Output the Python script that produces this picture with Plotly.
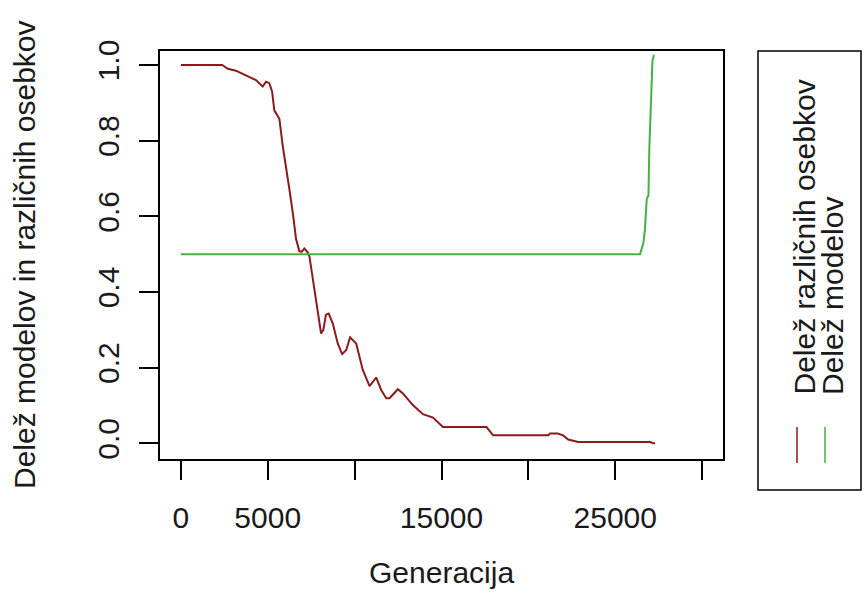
import plotly.graph_objects as go

# ---- data ----
gen_red = [0, 2380, 2700, 3170, 3500, 4000, 4320, 4710, 4900, 5090, 5250, 5380, 5670, 5860,
           6050, 6245, 6440, 6630, 6820, 6950, 7110, 7300, 7400, 7590, 7780, 8070, 8200, 8350,
           8510, 8740, 9030, 9280, 9510, 9740, 10090, 10470, 10860, 11240, 11530, 11820, 12010,
           12490, 12780, 13350, 13930, 14510, 15080, 17590, 17970, 21140, 21240, 21700, 22000,
           22290, 22870, 27000, 27190, 27290]
val_red = [1.0, 1.0, 0.99, 0.985, 0.978, 0.968, 0.96, 0.943, 0.956, 0.952, 0.93, 0.88, 0.858, 0.787,
           0.734, 0.672, 0.61, 0.54, 0.508, 0.506, 0.515, 0.505, 0.494, 0.433, 0.37, 0.29, 0.30, 0.34,
           0.343, 0.317, 0.264, 0.236, 0.246, 0.28, 0.264, 0.194, 0.151, 0.174, 0.141, 0.119, 0.119,
           0.143, 0.132, 0.101, 0.077, 0.068, 0.043, 0.043, 0.021, 0.021, 0.026, 0.026, 0.021,
           0.01, 0.0035, 0.0035, 0.0, 0.0]

gen_green = [0, 26430, 26620, 26710, 26810, 26910, 26960, 27040, 27140, 27230]
val_green = [0.5, 0.5, 0.53, 0.566, 0.646, 0.655, 0.779, 0.907, 1.01, 1.027]

x_tickvals = [0, 5000, 10000, 15000, 20000, 25000, 30000]
x_ticktext = ["0", "5000", "", "15000", "", "25000", ""]
y_tickvals = [0.0, 0.2, 0.4, 0.6, 0.8, 1.0]
y_ticktext = ["0.0", "0.2", "0.4", "0.6", "0.8", "1.0"]

legend_labels = ["Delež različnih osebkov", "Delež modelov"]
red_color = "#8B1A1A"
green_color = "#45B045"
FONT = "Liberation Sans, Arial, sans-serif"
FS = 30
TXT = "#1a1a1a"

# ---- layout geometry (pixels) ----
W, H = 864, 613
L, R, T, B = 160, 141, 51, 154
PW, PH = W - L - R, H - T - B


def xp(px):
    return (px - L) / PW


def yp(py):
    return (H - B - py) / PH


fig = go.Figure()
fig.add_trace(go.Scatter(x=gen_red, y=val_red, mode="lines",
                         line=dict(color=red_color, width=2), showlegend=False))
fig.add_trace(go.Scatter(x=gen_green, y=val_green, mode="lines",
                         line=dict(color=green_color, width=2), showlegend=False))

axis_common = dict(showline=True, linecolor="black", linewidth=1.5, mirror=True,
                   showgrid=False, zeroline=False, ticks="outside", ticklen=19,
                   tickwidth=1.5, tickcolor="black",
                   tickfont=dict(family=FONT, size=FS, color=TXT))

fig.update_xaxes(range=[-1200, 31200], tickvals=x_tickvals, ticktext=x_ticktext,
                 ticklabelstandoff=12, **axis_common)
fig.update_yaxes(range=[-0.0415, 1.037], tickvals=y_tickvals, ticktext=y_ticktext,
                 tickangle=-90, ticklabelstandoff=8, **axis_common)

annotations = [
    dict(text="Generacija", x=0.5, y=yp(572), xref="paper", yref="paper",
         showarrow=False, xanchor="center", yanchor="middle",
         font=dict(family=FONT, size=FS, color=TXT)),
    dict(text="Delež modelov in različnih osebkov", x=xp(24), y=0.5, xref="paper",
         yref="paper", showarrow=False, textangle=-90, xanchor="center",
         yanchor="middle", font=dict(family=FONT, size=FS, color=TXT)),
]
shapes = [
    dict(type="rect", xref="paper", yref="paper", x0=xp(758), x1=xp(861),
         y0=yp(490), y1=yp(51), line=dict(color="black", width=1.5)),
]
leg_x = [804, 832]
leg_colors = [red_color, green_color]
for lab, lx, col in zip(legend_labels, leg_x, leg_colors):
    annotations.append(dict(text=lab, x=xp(lx), y=yp(397), xref="paper", yref="paper",
                            showarrow=False, textangle=-90, xanchor="center",
                            yanchor="bottom", font=dict(family=FONT, size=FS, color=TXT)))
    shapes.append(dict(type="line", xref="paper", yref="paper", x0=xp(lx - 7),
                       x1=xp(lx - 7), y0=yp(463), y1=yp(427),
                       line=dict(color=col, width=1.5)))

fig.update_layout(width=W, height=H, margin=dict(l=L, r=R, t=T, b=B, autoexpand=False),
                  paper_bgcolor="white", plot_bgcolor="white",
                  annotations=annotations, shapes=shapes)

fig.write_html("out.html")
